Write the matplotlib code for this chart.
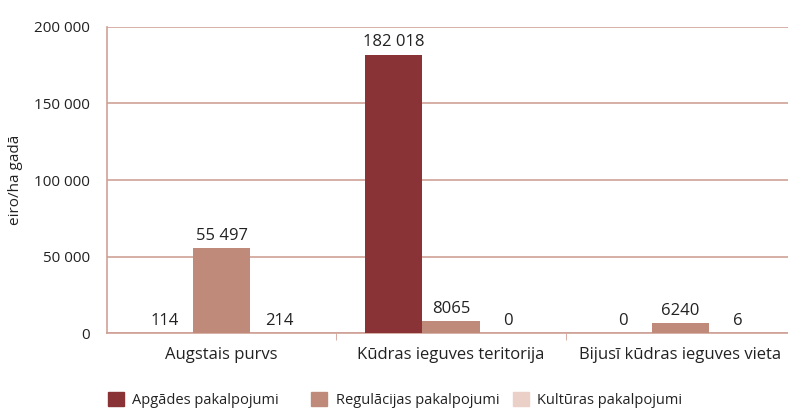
import matplotlib.pyplot as plt
import numpy as np
from matplotlib.patches import Patch

plt.rcParams['font.family'] = ['Open Sans', 'DejaVu Sans']

categories = ["Augstais purvs", "Kūdras ieguves teritorija", "Bijusī kūdras ieguves vieta"]
series = ["Apgādes pakalpojumi", "Regulācijas pakalpojumi", "Kultūras pakalpojumi"]
apgades = [114, 182018, 0]
regulacijas = [55497, 8065, 6240]
kulturas = [214, 0, 6]
labels = [["114", "182 018", "0"], ["55 497", "8065", "6240"], ["214", "0", "6"]]

colors = ["#8a3336", "#c08a7a", "#ead0c6"]
grid_c = "#cfa196"
text_c = "#222222"

fig = plt.figure(figsize=(7.88, 4.12), dpi=100)
ax = fig.add_axes([0.1358, 0.1917, 0.873, 0.7428])

x = np.arange(len(categories))
w = 0.25
for i, vals in enumerate([apgades, regulacijas, kulturas]):
    bars = ax.bar(x + (i - 1) * w, vals, w, color=colors[i], zorder=3)
    ax.bar_label(bars, labels=labels[i], padding=3, fontsize=12, color=text_c)

ax.set_xlim(-0.5, 2.5)
ax.set_ylim(0, 200000)
ax.set_yticks([0, 50000, 100000, 150000, 200000])
ax.set_yticklabels(["0", "50 000", "100 000", "150 000", "200 000"], fontsize=11, color=text_c)
ax.yaxis.grid(True, color=grid_c, linewidth=1.2, zorder=0)
ax.tick_params(axis='y', length=0, pad=12)

ax.set_xticks(x)
ax.set_xticklabels(categories, fontsize=12, color=text_c)
ax.set_xticks([0.5, 1.5], minor=True)
ax.tick_params(axis='x', which='major', length=0, pad=10)
ax.tick_params(axis='x', which='minor', length=5, color=grid_c)

for s in ['top', 'right']:
    ax.spines[s].set_visible(False)
ax.spines['left'].set_color(grid_c)
ax.spines['left'].set_linewidth(1.2)
ax.spines['bottom'].set_color(grid_c)
ax.spines['bottom'].set_linewidth(1.2)

ax.set_ylabel("eiro/ha gadā", fontsize=11, color=text_c, labelpad=8)

# legend entries spaced evenly along the bottom
for c, name, lx in zip(colors, series, [0.131, 0.389, 0.645]):
    fig.legend([Patch(color=c)], [name], loc='lower left', bbox_to_anchor=(lx, 0.0),
               frameon=False, fontsize=10.5, handlelength=1.1, handleheight=1.1,
               handletextpad=0.6, borderaxespad=0, borderpad=0.3, labelcolor=text_c)

fig.savefig("out.png", dpi=100)
